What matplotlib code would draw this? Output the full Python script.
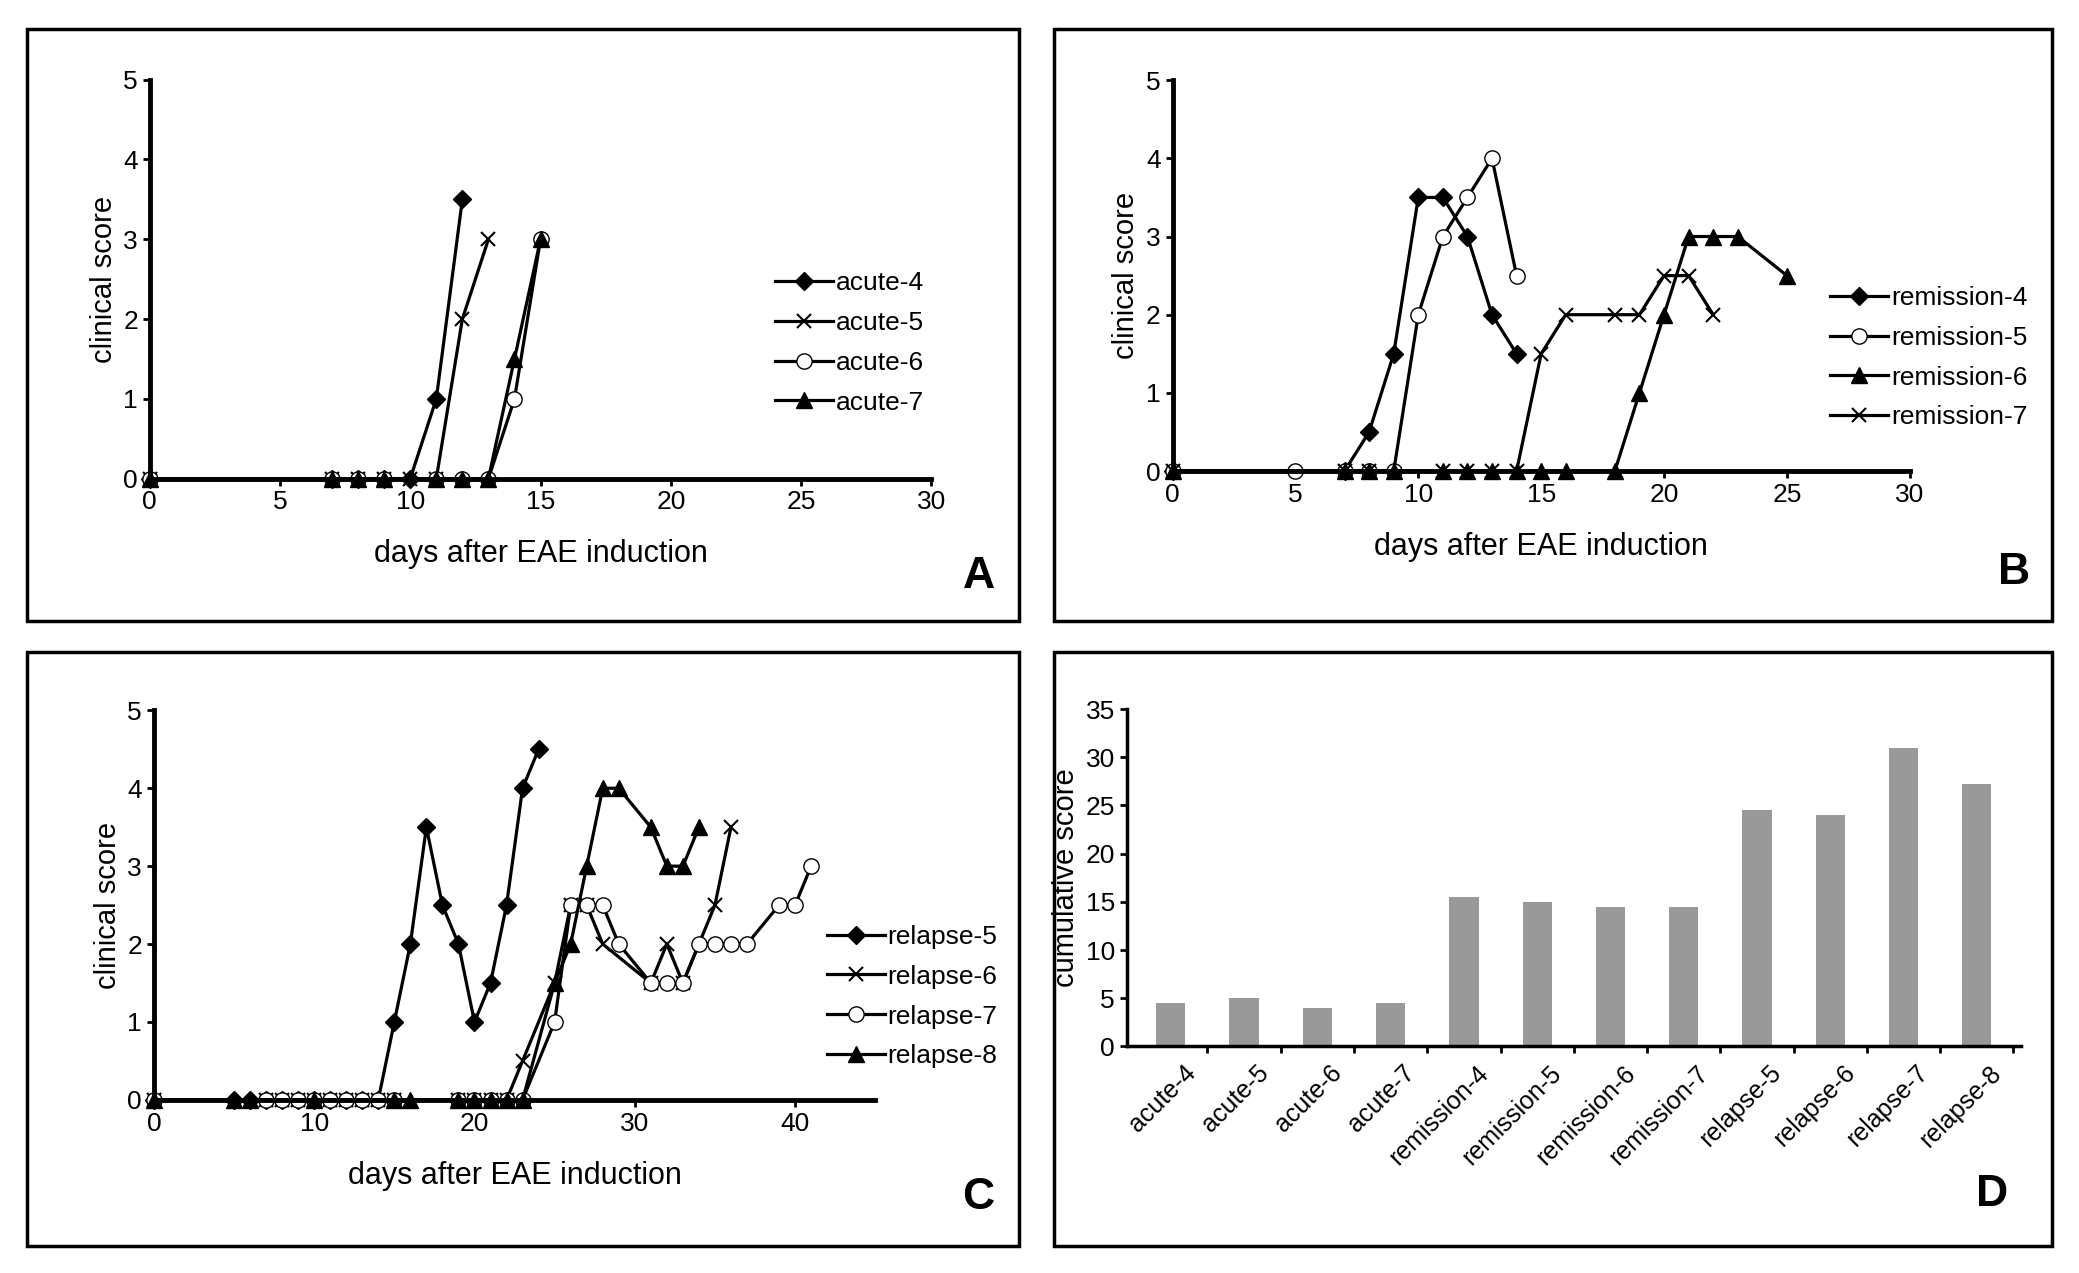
import matplotlib
matplotlib.use("Agg")
import matplotlib.pyplot as plt
from matplotlib.patches import Rectangle

plt.rcParams['font.family'] = ['Liberation Sans', 'DejaVu Sans']

# Panel A
a4_x = [0, 7, 8, 9, 10, 11, 12]; a4_y = [0, 0, 0, 0, 0, 1, 3.5]
a5_x = [0, 7, 8, 9, 10, 11, 12, 13]; a5_y = [0, 0, 0, 0, 0, 0, 2, 3]
a6_x = [0, 7, 8, 9, 11, 12, 13, 14, 15]; a6_y = [0, 0, 0, 0, 0, 0, 0, 1, 3]
a7_x = [0, 7, 8, 9, 11, 12, 13, 14, 15]; a7_y = [0, 0, 0, 0, 0, 0, 0, 1.5, 3]
# Panel B
r4_x = [0, 7, 8, 9, 10, 11, 12, 13, 14]; r4_y = [0, 0, 0.5, 1.5, 3.5, 3.5, 3, 2, 1.5]
r5_x = [0, 5, 7, 8, 9, 10, 11, 12, 13, 14]; r5_y = [0, 0, 0, 0, 0, 2, 3, 3.5, 4, 2.5]
r6_x = [0, 7, 8, 9, 11, 12, 13, 14, 15, 16, 18, 19, 20, 21, 22, 23, 25]
r6_y = [0, 0, 0, 0, 0, 0, 0, 0, 0, 0, 0, 1, 2, 3, 3, 3, 2.5]
r7_x = [0, 7, 8, 11, 12, 13, 14, 15, 16, 18, 19, 20, 21, 22]
r7_y = [0, 0, 0, 0, 0, 0, 0, 1.5, 2, 2, 2, 2.5, 2.5, 2]
# Panel C
l5_x = [0, 5, 6, 7, 8, 9, 10, 11, 12, 13, 14, 15, 16, 17, 18, 19, 20, 21, 22, 23, 24]
l5_y = [0, 0, 0, 0, 0, 0, 0, 0, 0, 0, 0, 1, 2, 3.5, 2.5, 2, 1, 1.5, 2.5, 4, 4.5]
l6_x = [0, 7, 8, 9, 10, 11, 12, 13, 14, 15, 19, 20, 21, 22, 23, 25, 26, 27, 28, 31, 32, 33, 35, 36]
l6_y = [0, 0, 0, 0, 0, 0, 0, 0, 0, 0, 0, 0, 0, 0, 0.5, 1.5, 2.5, 2.5, 2, 1.5, 2, 1.5, 2.5, 3.5]
l7_x = [0, 7, 8, 9, 10, 11, 12, 13, 14, 15, 19, 20, 21, 22, 23, 25, 26, 27, 28, 29, 31, 32, 33, 34, 35, 36, 37, 39, 40, 41]
l7_y = [0, 0, 0, 0, 0, 0, 0, 0, 0, 0, 0, 0, 0, 0, 0, 1, 2.5, 2.5, 2.5, 2, 1.5, 1.5, 1.5, 2, 2, 2, 2, 2.5, 2.5, 3]
l8_x = [0, 5, 6, 10, 15, 16, 19, 20, 21, 22, 23, 25, 26, 27, 28, 29, 31, 32, 33, 34]
l8_y = [0, 0, 0, 0, 0, 0, 0, 0, 0, 0, 0, 1.5, 2, 3, 4, 4, 3.5, 3, 3, 3.5]
# Panel D
d_labels = ['acute-4', 'acute-5', 'acute-6', 'acute-7', 'remission-4', 'remission-5',
            'remission-6', 'remission-7', 'relapse-5', 'relapse-6', 'relapse-7', 'relapse-8']
d_values = [4.5, 5, 4, 4.5, 15.5, 15, 14.5, 14.5, 24.5, 24, 31, 27.2]

fig = plt.figure(figsize=(20.79, 12.73), dpi=100)

for (l, b, w, h) in [(.013, .5125, .477, .4645), (.507, .5125, .48, .4645),
                     (.013, .021, .477, .4665), (.507, .021, .48, .4665)]:
    fig.add_artist(Rectangle((l, b), w, h, transform=fig.transFigure, fill=False, lw=2.5, ec='black'))

DIA = dict(marker='D', mfc='black', ms=9)
XX = dict(marker='x', mfc='black', ms=10, mew=1.5)
CIR = dict(marker='o', mfc='white', ms=11)
TRI = dict(marker='^', mfc='black', ms=11)

def line_ax(rect, series, styles, xmax, xticks, labels, letter, letter_pos, leg_anchor):
    ax = fig.add_axes(rect)
    for (x, y), st, lab in zip(series, styles, labels):
        ax.plot(x, y, color='black', lw=2.3, mec='black', label=lab, clip_on=False, **st)
    ax.set_xlim(0, xmax); ax.set_ylim(0, 5)
    ax.set_xticks(xticks); ax.set_yticks(range(6))
    for s in ['top', 'right']:
        ax.spines[s].set_visible(False)
    for s in ['left', 'bottom']:
        ax.spines[s].set_linewidth(3.5)
    ax.tick_params(labelsize=19, width=2, length=5, direction='out')
    ax.set_ylabel('clinical score', fontsize=21)
    ax.set_xlabel('days after EAE induction', fontsize=22, labelpad=18)
    ax.legend(loc='center left', bbox_to_anchor=leg_anchor, frameon=False, fontsize=19,
              handlelength=2.2, handletextpad=0.1, labelspacing=0.6)
    ax.text(letter_pos[0], letter_pos[1], letter, transform=ax.transAxes,
            fontsize=32, fontweight='bold', ha='left', va='center')
    return ax

line_ax([.072, .624, .376, .3135], [(a4_x, a4_y), (a5_x, a5_y), (a6_x, a6_y), (a7_x, a7_y)],
        [DIA, XX, CIR, TRI], 30, range(0, 31, 5), ['acute-4', 'acute-5', 'acute-6', 'acute-7'],
        'A', (1.04, -0.245), (0.77, 0.34))
line_ax([.564, .630, .3546, .307], [(r4_x, r4_y), (r5_x, r5_y), (r6_x, r6_y), (r7_x, r7_y)],
        [DIA, CIR, TRI, XX], 30, range(0, 31, 5),
        ['remission-4', 'remission-5', 'remission-6', 'remission-7'],
        'B', (1.12, -0.26), (0.86, 0.29))
line_ax([.074, .136, .347, .306], [(l5_x, l5_y), (l6_x, l6_y), (l7_x, l7_y), (l8_x, l8_y)],
        [DIA, XX, CIR, TRI], 45, range(0, 41, 10),
        ['relapse-5', 'relapse-6', 'relapse-7', 'relapse-8'],
        'C', (1.12, -0.25), (0.9, 0.265))

axD = fig.add_axes([.542, .178, .43, .265])
axD.bar(range(len(d_values)), d_values, width=0.4, color='#999999')
axD.set_xlim(-0.6, len(d_values) - 0.4)
axD.set_ylim(0, 35); axD.set_yticks(range(0, 36, 5))
axD.set_xticks([i + 0.5 for i in range(len(d_values))])
axD.set_xticklabels([])
for i, lab in enumerate(d_labels):
    axD.text(i + 0.4, -1.5, lab, rotation=45, ha='right', va='top', fontsize=18)
for s in ['top', 'right']:
    axD.spines[s].set_visible(False)
for s in ['left', 'bottom']:
    axD.spines[s].set_linewidth(2.5)
axD.tick_params(labelsize=19, width=2, length=5)
axD.set_ylabel('cumulative score', fontsize=21)
axD.text(0.95, -0.44, 'D', transform=axD.transAxes, fontsize=32, fontweight='bold', va='center')

fig.savefig('out.png', dpi=100)
